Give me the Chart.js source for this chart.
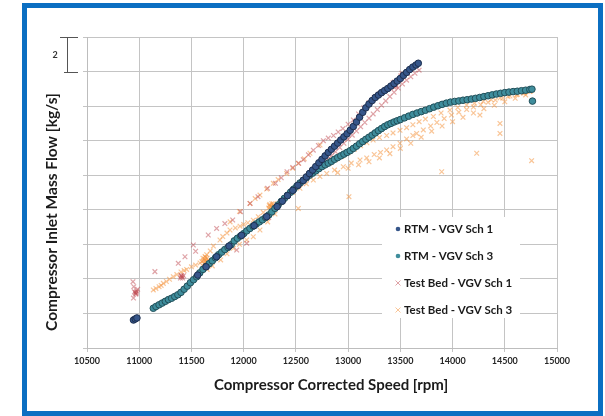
<!DOCTYPE html>
<html>
<head>
<meta charset="utf-8">
<script src="https://cdn.jsdelivr.net/npm/chart.js@4.4.1/dist/chart.umd.min.js"></script>
<style>
  html, body { margin: 0; padding: 0; background: #fff; }
  canvas { display: block; }
</style>
</head>
<body>
<canvas id="flowChart" width="605" height="416"></canvas>
<script>
// [corrected speed rpm, inlet mass flow] (flow axis is unlabelled, one grid step = 2 kg/s)
const rtmSch1 = [
  [10945,1.62],[10962,1.68],[10978,1.74],
  [11560,4.22],[11640,4.70],[11740,5.28],[11860,5.90],[11980,6.52],[12100,7.08],[12220,7.60],
  [12320,8.18],[12370,8.50],[12420,8.82],[12470,9.12],[12520,9.42],[12570,9.70],
  [12600,9.90],[12630,10.10],[12660,10.30],[12690,10.50],[12720,10.72],[12750,10.92],[12780,11.12],[12810,11.32],
  [12840,11.50],[12870,11.68],[12900,11.86],[12930,12.04],[12960,12.22],[12990,12.40],[13020,12.60],[13050,12.82],
  [13080,13.08],[13110,13.36],[13140,13.64],[13170,13.90],[13200,14.12],[13230,14.32],[13260,14.50],[13290,14.64],
  [13320,14.78],[13350,14.90],[13380,15.02],[13410,15.16],[13440,15.30],[13470,15.45],[13500,15.60],[13530,15.78],
  [13560,15.95],[13590,16.12],[13620,16.26],[13650,16.38],[13672,16.48]
];
const rtmSch3 = [
  [11135,2.30],[11160,2.40],[11190,2.50],[11220,2.60],[11250,2.70],[11280,2.80],[11310,2.88],[11340,2.98],
  [11370,3.08],[11400,3.22],[11430,3.40],[11460,3.58],[11490,3.78],[11520,3.95],[11550,4.12],[11580,4.35],
  [11610,4.55],[11640,4.72],[11670,4.88],[11700,5.05],[11730,5.22],[11760,5.40],[11790,5.55],[11820,5.70],
  [11850,5.82],[11880,5.98],[11910,6.20],[11940,6.35],[11970,6.48],[12000,6.62],[12030,6.78],[12060,6.92],
  [12090,7.05],[12120,7.18],[12150,7.30],[12180,7.42],[12210,7.55],[12240,7.70],[12270,7.88],[12300,8.08],
  [12330,8.28],[12360,8.48],[12390,8.66],[12420,8.84],[12450,9.02],[12480,9.20],[12510,9.38],[12540,9.55],
  [12570,9.70],[12600,9.85],[12630,10.00],[12660,10.12],[12690,10.25],[12720,10.38],[12750,10.50],[12780,10.60],
  [12810,10.70],[12840,10.80],[12870,10.92],[12900,11.02],[12930,11.12],[12960,11.22],[12990,11.32],[13020,11.42],
  [13050,11.55],[13080,11.68],[13110,11.82],[13140,11.95],[13170,12.08],[13200,12.20],[13230,12.32],[13260,12.45],
  [13290,12.58],[13320,12.70],[13350,12.82],[13380,12.92],[13410,13.00],[13440,13.08],[13470,13.15],[13500,13.22],
  [13540,13.32],[13580,13.42],[13620,13.52],[13660,13.60],[13700,13.68],[13740,13.76],[13780,13.85],[13820,13.94],
  [13860,14.02],[13900,14.10],[13940,14.17],[13980,14.23],[14020,14.27],[14060,14.30],[14100,14.34],[14140,14.37],
  [14180,14.41],[14220,14.45],[14260,14.50],[14300,14.55],[14340,14.60],[14380,14.65],[14420,14.70],[14460,14.74],
  [14500,14.78],[14540,14.81],[14580,14.84],[14620,14.86],[14660,14.89],[14700,14.92],[14740,14.96],[14760,14.98],
  [14765,14.29]
];
const testBedSch1 = [
  [10940,3.84],[10948,3.55],[10955,3.25],[10962,3.20],[10970,3.14],[10975,3.30],[10945,2.89],[10985,3.40],
  [10972,3.22],[10966,3.12],
  [11150,4.42],[11374,4.90],[11438,5.28],[11395,4.05],[11405,4.20],[11415,4.05],[11425,4.18],[11410,4.12],
  [11400,4.16],[11518,5.96],[11540,5.60],[11661,6.54],[11741,6.92],[11820,7.20],[11933,5.67],[12029,6.06],
  [12229,7.60],[12240,7.55],[12234,7.66],
  [11895,7.41],[11970,7.89],[12061,8.37],[12137,8.76],[12229,9.24],[12304,9.53],[12360,9.85],[12415,10.20],
  [12470,10.45],[12527,10.69],[12571,10.90],[12620,11.18],[12667,11.45],[12715,11.72],[12763,12.00],[12810,12.15],
  [12860,12.30],[12905,12.50],[12950,12.70],[13000,12.95],[13050,13.20],[13100,13.55],[13150,13.90],[13200,14.20],
  [13250,14.50],[13300,14.70],[13350,14.90],[13400,15.10],
  [13420,15.20],[13430,15.35],[13440,15.10],[13450,15.30],[13460,15.20],[13435,15.25],[13445,15.40],[13455,15.12],
  [13505,15.75],[13515,15.90],[13525,15.70],[13535,15.85],[13520,15.80],[13510,15.66],
  [12560,9.55],[12600,9.78],[12640,10.00],[12680,10.22],[12720,10.45],[12760,10.68],[12800,10.90],[12840,11.12],
  [12880,11.36],[12920,11.60],[12960,11.85],[13000,12.08],[13040,12.32],[13080,12.56],[13120,12.80],[13160,13.05],
  [13200,13.30],[13240,13.55],[13280,13.80],[13320,14.05],[13360,14.30],[13400,14.55],[13440,14.80],[13480,15.05],
  [13520,15.28],[13560,15.50],[13600,15.70],[13640,15.90],[13680,16.08]
];
const testBedSch3 = [
  [11135,3.36],[11160,3.45],[11190,3.55],[11210,3.62],[11231,3.74],[11260,3.85],[11290,3.98],[11326,4.13],
  [11360,4.25],[11400,4.40],[11430,4.48],[11454,4.55],[11500,4.70],[11540,4.80],[11582,4.92],
  [11600,5.00],[11610,5.20],[11620,4.90],[11630,5.30],[11640,5.00],[11650,5.20],[11660,5.08],[11615,5.05],
  [11645,4.92],[11625,5.15],[11635,5.25],[11655,5.00],[11632,5.08],
  [11646,5.40],[11680,5.62],[11710,5.90],[11773,6.25],
  [11800,6.45],[11840,6.65],[11869,6.83],[11920,6.95],[11965,7.05],[12000,7.15],[12040,7.25],[12092,7.40],
  [12140,7.60],[12188,7.85],
  [12240,8.10],[12250,8.30],[12260,7.95],[12270,8.35],[12280,8.05],[12290,8.25],[12300,8.10],[12255,8.20],
  [12275,8.15],[12265,8.00],[12285,8.35],[12245,8.25],[12270,8.18],
  [11870,7.30],[11960,7.90],[12061,8.37],[12110,8.65],[12156,8.85],[12220,9.20],[12284,9.53],[12330,9.75],
  [12412,10.10],[12470,10.40],[12523,10.69],[12580,10.95],[12635,11.27],[12731,11.75],
  [11650,4.55],[11700,4.75],[11780,5.10],[11840,5.45],[11901,5.77],[11960,6.00],[12029,6.25],[12092,6.44],
  [12156,6.83],[12230,7.30],[12300,7.75],
  [12350,8.40],[12412,8.76],[12470,9.00],[12539,9.24],[12600,9.50],[12667,9.72],[12730,9.92],[12795,10.10],
  [12870,10.30],[12954,10.49],[13030,10.70],[13114,10.88],[13178,11.00],[13250,11.20],[13310,11.32],[13369,11.46],
  [13430,11.65],[13497,11.85],[13560,12.10],[13620,12.30],[13656,12.42],[13720,12.62],[13790,12.85],[13850,13.05],
  [13920,13.28],[13990,13.48],[14060,13.65],[14135,13.80],[14200,13.95],[14270,14.08],[14340,14.22],[14410,14.35],
  [14480,14.47],[14550,14.58],[14620,14.68],[14690,14.78],[14740,14.85],
  [12700,10.30],[12760,10.50],[12820,10.70],[12880,10.90],[12940,11.10],[13000,11.30],[13060,11.50],[13120,11.70],
  [13180,11.88],[13240,12.04],[13300,12.18],[13369,12.30],[13430,12.45],[13497,12.60],[13560,12.75],[13620,12.92],
  [13680,13.10],[13740,13.25],[13816,13.40],[13890,13.60],[13975,13.77],[14050,13.92],[14135,14.06],[14210,14.17],
  [14294,14.27],[14370,14.37],[14454,14.47],[14530,14.56],[14614,14.66],[14680,14.75],[14741,14.86],[14760,14.92],
  [12900,10.15],[13000,10.40],[13100,10.60],[13200,10.78],[13300,11.00],[13400,11.25],[13500,11.55],[13600,11.85],
  [13700,12.20],[13800,12.55],[13900,12.85],[14000,13.10],[14100,13.35],[14200,13.60],[14300,13.85],[14400,14.05],
  [14500,14.25],[14600,14.45],[14700,14.65],
  [12523,8.08],[13008,8.76],[13896,10.20],[14231,11.27],[14262,13.48],[14454,13.00],[14454,12.42],[14757,10.84]
];

const seriesNames = ["RTM - VGV Sch 1", "RTM - VGV Sch 3", "Test Bed - VGV Sch 1", "Test Bed - VGV Sch 3"];
const speedRange = [10500, 15000];
const flowRange = [0, 18];
const speedStep = 500;
const flowStep = 2;

const FONT = "Lato, 'Open Sans', sans-serif";
const navy = { fill: "#36568a", edge: "#1d2f4f" };
const teal = { fill: "#3f8d9c", edge: "#22505a" };
const pink = "rgba(192, 72, 80, 0.5)";
const orange = "rgba(244, 150, 66, 0.55)";

const toXY = (arr) => arr.map(p => ({ x: p[0], y: p[1] }));

// legend, axis titles, the "2" scale bracket and the blue frame
const decor = {
  id: "decor",
  beforeDatasetsDraw(chart) {
    const ctx = chart.ctx;
    ctx.save();
    ctx.fillStyle = "#fff";
    ctx.fillRect(382, 217, 138, 101);
    const rows = [229, 256, 283, 310];
    ctx.font = "bold 11.5px " + FONT;
    ctx.textBaseline = "middle";
    seriesNames.forEach((name, i) => {
      const y = rows[i];
      if (i < 2) {
        const c = i === 0 ? navy : teal;
        ctx.beginPath();
        ctx.arc(398, y, 2.3, 0, Math.PI * 2);
        ctx.fillStyle = c.fill;
        ctx.fill();
      } else {
        ctx.strokeStyle = i === 2 ? pink : orange;
        ctx.lineWidth = 1;
        ctx.beginPath();
        ctx.moveTo(395.5, y - 2.5); ctx.lineTo(400.5, y + 2.5);
        ctx.moveTo(400.5, y - 2.5); ctx.lineTo(395.5, y + 2.5);
        ctx.stroke();
      }
      ctx.fillStyle = "#1b1b1b";
      ctx.fillText(name, 404, y);
    });
    ctx.restore();
  },
  afterDraw(chart) {
    const ctx = chart.ctx;
    const area = chart.chartArea;
    const yScale = chart.scales.y;
    ctx.save();
    ctx.fillStyle = "#1b1b1b";
    ctx.font = "bold 15px " + FONT;
    ctx.textAlign = "center";
    ctx.textBaseline = "middle";
    ctx.fillText("Compressor Corrected Speed [rpm]", 331, 385);
    ctx.save();
    ctx.translate(52, 212);
    ctx.rotate(-Math.PI / 2);
    ctx.font = "bold 15.5px " + FONT;
    ctx.fillText("Compressor Inlet Mass Flow [kg/s]", 0, 0);
    ctx.restore();

    // bracket showing one grid step
    const yTop = Math.round(yScale.getPixelForValue(flowRange[1])) + 0.5;
    const yBot = Math.round(yScale.getPixelForValue(flowRange[1] - flowStep)) + 0.5;
    ctx.strokeStyle = "#555";
    ctx.lineWidth = 1;
    ctx.beginPath();
    ctx.moveTo(60, yTop); ctx.lineTo(area.left - 9, yTop);
    ctx.moveTo(64, yBot); ctx.lineTo(area.left - 9, yBot);
    ctx.moveTo(67.5, yTop); ctx.lineTo(67.5, yBot);
    ctx.stroke();
    ctx.font = "bold 9px " + FONT;
    ctx.fillStyle = "#333";
    ctx.fillText(String(flowStep), 55, (yTop + yBot) / 2);

    ctx.strokeStyle = "#0b6fc2";
    ctx.lineWidth = 5;
    ctx.strokeRect(24.5, 5.5, 576, 408);
    ctx.restore();
  }
};

new Chart(document.getElementById("flowChart").getContext("2d"), {
  type: "scatter",
  data: {
    datasets: [
      {
        label: seriesNames[0],
        data: toXY(rtmSch1),
        pointStyle: "circle",
        pointRadius: 3.3,
        backgroundColor: navy.fill,
        borderColor: navy.edge,
        borderWidth: 1,
      },
      {
        label: seriesNames[1],
        data: toXY(rtmSch3),
        pointStyle: "circle",
        pointRadius: 3.3,
        backgroundColor: teal.fill,
        borderColor: teal.edge,
        borderWidth: 1,
      },
      {
        label: seriesNames[2],
        data: toXY(testBedSch1),
        pointStyle: "crossRot",
        pointRadius: 3.3,
        borderColor: pink,
        backgroundColor: pink,
        borderWidth: 1.2,
      },
      {
        label: seriesNames[3],
        data: toXY(testBedSch3),
        pointStyle: "crossRot",
        pointRadius: 3.3,
        borderColor: orange,
        backgroundColor: orange,
        borderWidth: 1.2,
      },
    ],
  },
  options: {
    responsive: false,
    animation: false,
    devicePixelRatio: 1,
    layout: { padding: { left: 35, top: 37, right: 48, bottom: 0 } },
    plugins: { legend: { display: false }, tooltip: { enabled: false } },
    scales: {
      x: {
        type: "linear",
        min: speedRange[0],
        max: speedRange[1],
        afterFit: (s) => { s.height = 68; },
        ticks: {
          stepSize: speedStep,
          callback: (v) => String(v),
          font: { family: FONT, size: 9, weight: "bold" },
          color: "#262626",
          padding: 4,
          maxRotation: 0,
        },
        grid: { color: "#c4c4c4", tickLength: 4 },
        border: { color: "#bdbdbd" },
      },
      y: {
        min: flowRange[0],
        max: flowRange[1],
        afterFit: (s) => { s.width = 52; },
        ticks: { stepSize: flowStep, display: false },
        grid: { color: "#c4c4c4", tickLength: 4 },
        border: { color: "#bdbdbd" },
      },
    },
  },
  plugins: [decor],
});
</script>
</body>
</html>
